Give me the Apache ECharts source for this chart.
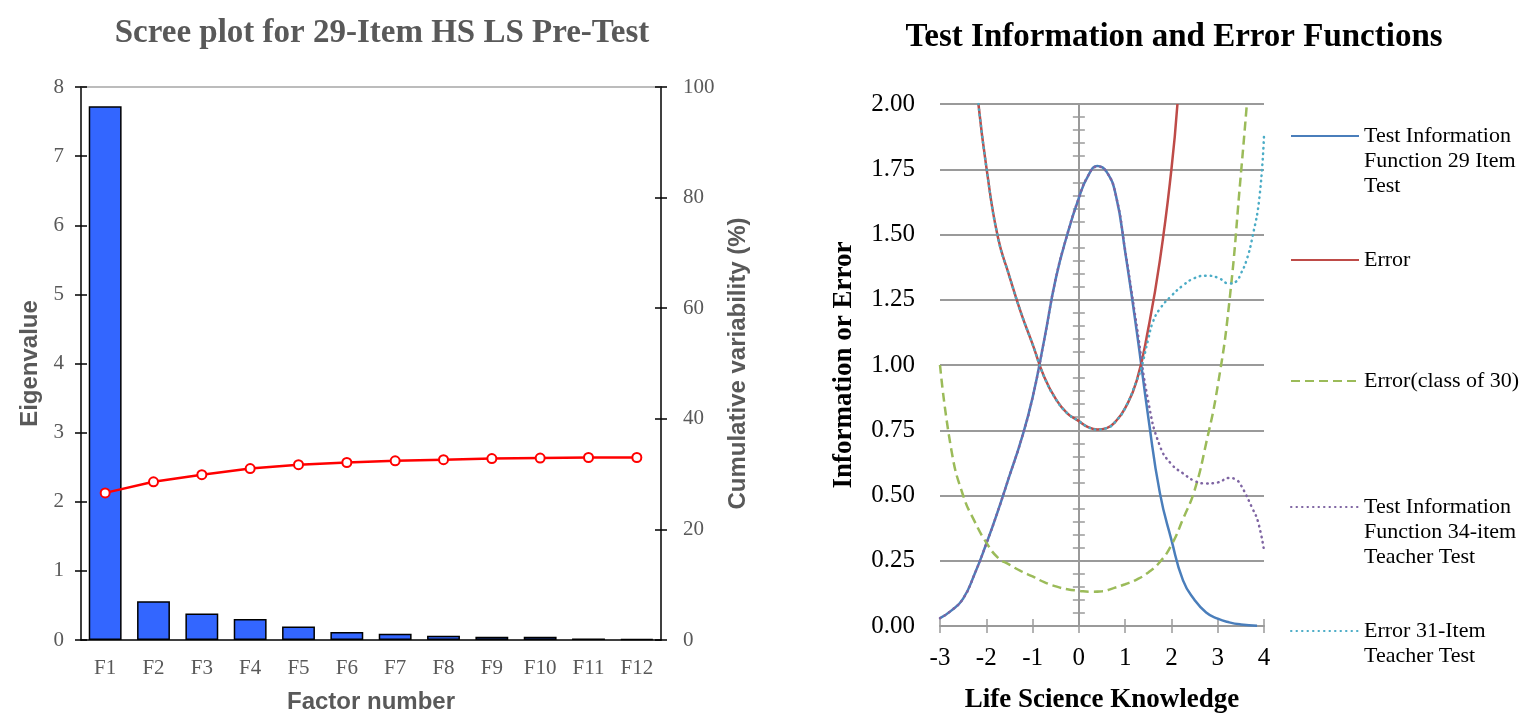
<!DOCTYPE html>
<html>
<head>
<meta charset="utf-8">
<title>Scree plot and test information</title>
<script src="https://cdn.jsdelivr.net/npm/echarts@6/dist/echarts.min.js"></script>
<style>
  html, body { margin: 0; padding: 0; background: #fff; }
  #main { width: 1522px; height: 719px; }
</style>
</head>
<body>
<div id="main"></div>
<script>
// scree plot data
const factors = ['F1', 'F2', 'F3', 'F4', 'F5', 'F6', 'F7', 'F8', 'F9', 'F10', 'F11', 'F12']
const eigenvalues = [7.72, 0.56, 0.385, 0.305, 0.195, 0.115, 0.09, 0.062, 0.048, 0.046, 0.022, 0.012]
const cumulative = [26.6, 28.6, 29.9, 31.0, 31.7, 32.1, 32.4, 32.6, 32.8, 32.9, 33.0, 33.0]

// test information / error data, [theta, value]
const info29 = [[-3, 0.03], [-2.75, 0.06], [-2.5, 0.105], [-2.25, 0.2], [-2, 0.315], [-1.75, 0.44], [-1.5, 0.575], [-1.25, 0.71], [-1, 0.875], [-0.75, 1.095], [-0.5, 1.33], [-0.25, 1.5], [0, 1.64], [0.2, 1.725], [0.4, 1.762], [0.6, 1.74], [0.8, 1.65], [1, 1.435], [1.25, 1.13], [1.5, 0.8], [1.75, 0.51], [2, 0.33], [2.25, 0.175], [2.5, 0.1], [2.75, 0.052], [3, 0.028], [3.25, 0.014], [3.5, 0.006], [3.85, 0.001]]
const error29 = [[-2.17, 2.0], [-2, 1.76], [-1.75, 1.49], [-1.5, 1.34], [-1.25, 1.2], [-1, 1.08], [-0.75, 0.955], [-0.5, 0.87], [-0.25, 0.815], [0, 0.785], [0.2, 0.762], [0.4, 0.753], [0.6, 0.758], [0.8, 0.785], [1, 0.835], [1.25, 0.94], [1.5, 1.14], [1.75, 1.4], [2, 1.75], [2.13, 2.0]]
const errorClass30 = [[-3, 1.0], [-2.75, 0.67], [-2.5, 0.5], [-2.25, 0.4], [-2, 0.32], [-1.75, 0.262], [-1.5, 0.235], [-1.25, 0.21], [-1, 0.19], [-0.75, 0.168], [-0.5, 0.152], [-0.25, 0.141], [0, 0.135], [0.25, 0.131], [0.5, 0.133], [0.75, 0.145], [1, 0.16], [1.25, 0.178], [1.5, 0.205], [1.75, 0.245], [2, 0.31], [2.25, 0.41], [2.5, 0.52], [2.75, 0.7], [3, 0.92], [3.25, 1.24], [3.5, 1.73], [3.63, 2.0]]
const info34 = [[-3, 0.03], [-2.75, 0.06], [-2.5, 0.105], [-2.25, 0.2], [-2, 0.315], [-1.75, 0.44], [-1.5, 0.575], [-1.25, 0.71], [-1, 0.875], [-0.75, 1.095], [-0.5, 1.33], [-0.25, 1.5], [0, 1.64], [0.2, 1.725], [0.4, 1.76], [0.6, 1.74], [0.8, 1.65], [1, 1.44], [1.25, 1.15], [1.5, 0.86], [1.75, 0.69], [2, 0.62], [2.25, 0.585], [2.5, 0.556], [2.75, 0.546], [3, 0.55], [3.25, 0.567], [3.4, 0.56], [3.5, 0.54], [3.75, 0.45], [3.87, 0.4], [4, 0.29]]
const error31 = [[-2.17, 2.0], [-2, 1.76], [-1.75, 1.49], [-1.5, 1.34], [-1.25, 1.2], [-1, 1.08], [-0.75, 0.955], [-0.5, 0.87], [-0.25, 0.815], [0, 0.785], [0.2, 0.762], [0.4, 0.753], [0.6, 0.758], [0.8, 0.785], [1, 0.835], [1.25, 0.94], [1.35, 0.99], [1.5, 1.1], [1.6, 1.165], [1.75, 1.215], [2, 1.265], [2.25, 1.305], [2.5, 1.333], [2.75, 1.342], [3, 1.335], [3.25, 1.312], [3.4, 1.32], [3.5, 1.35], [3.62, 1.4], [3.75, 1.49], [3.9, 1.64], [4, 1.88]]

const names = [
  'Test Information\nFunction 29 Item\nTest',
  'Error',
  'Error(class of 30)',
  'Test Information\nFunction 34-item\nTeacher Test',
  'Error 31-Item\nTeacher Test',
]

const serif = '"Liberation Serif", "DejaVu Serif", serif'
const sans = '"Liberation Sans", Arial, sans-serif'
const gridGray = '#9a9a9a'

// one legend per entry; blank lines on top keep the symbol on the first text line
const legendCenters = [136, 260, 381, 507, 631]
const legends = names.map((n, i) => {
  const lines = n.split('\n').length
  return {
    data: [n],
    orient: 'vertical',
    left: 1290,
    top: legendCenters[i] - (2 * lines - 1) * 12.5,
    padding: 0,
    itemWidth: 68,
    itemHeight: 12,
    selectedMode: false,
    itemStyle: { opacity: 0 },
    formatter: (name) => '\n'.repeat(lines - 1) + name,
    textStyle: {
      fontFamily: serif,
      fontSize: 22,
      color: '#000',
      lineHeight: 25,
    },
  }
})

function curve(name, data, color, dash, cap) {
  return {
    name, type: 'line', xAxisIndex: 3, yAxisIndex: 4,
    data, symbol: 'none', smooth: 0.5,
    lineStyle: { color, width: 2.5, type: dash || 'solid', cap: cap || 'butt' },
    itemStyle: { color },
  }
}

const chart = echarts.init(document.getElementById('main'))
chart.setOption({
  animation: false,
  graphic: [
    {
      type: 'text', x: 382, y: 33,
      style: {
        text: 'Scree plot for 29-Item HS LS Pre-Test',
        fontFamily: serif, fontSize: 33, fontWeight: 'bold', fill: '#595959',
        align: 'center', verticalAlign: 'middle',
      },
    },
    {
      type: 'text', x: 1174, y: 37,
      style: {
        text: 'Test Information and Error Functions',
        fontFamily: serif, fontSize: 33, fontWeight: 'bold', fill: '#000',
        align: 'center', verticalAlign: 'middle',
      },
    },
  ],
  legend: legends,
  grid: [
    { left: 81, top: 87, width: 580, height: 556 },
    { left: 940, top: 104, width: 324, height: 528 },
  ],
  xAxis: [
    {
      type: 'category', gridIndex: 0, data: factors, position: 'bottom',
      axisLine: { lineStyle: { color: '#000', width: 1.5 } },
      axisTick: { interval: 0, length: 6, lineStyle: { color: '#000', width: 1.5 } },
      axisLabel: { interval: 0, color: '#595959', fontFamily: serif, fontSize: 21, margin: 18 },
      name: 'Factor number', nameLocation: 'middle', nameGap: 50,
      nameTextStyle: { color: '#595959', fontFamily: sans, fontWeight: 'bold', fontSize: 24 },
    },
    {
      type: 'category', gridIndex: 0, data: factors, position: 'bottom',
      axisLine: { show: false },
      axisTick: { interval: 0, inside: true, length: 6, lineStyle: { color: '#000', width: 1.5 } },
      axisLabel: { show: false },
    },
    {
      type: 'category', gridIndex: 0, data: factors, position: 'top',
      axisLine: { onZero: false, lineStyle: { color: '#a6a6a6', width: 1.5 } },
      axisTick: { show: false },
      axisLabel: { show: false },
    },
    {
      type: 'value', gridIndex: 1, min: -3, max: 4, interval: 1, position: 'bottom',
      axisLine: { lineStyle: { color: gridGray, width: 2 } },
      axisTick: { length: 7, lineStyle: { color: gridGray, width: 1.5 } },
      axisLabel: { color: '#000', fontFamily: serif, fontSize: 25, margin: 20 },
      splitLine: { show: false },
      name: 'Life Science Knowledge', nameLocation: 'middle', nameGap: 61,
      nameTextStyle: { color: '#000', fontFamily: serif, fontWeight: 'bold', fontSize: 27 },
    },
    {
      type: 'value', gridIndex: 1, min: -3, max: 4, interval: 1, position: 'bottom',
      axisLine: { show: false },
      axisTick: { inside: true, length: 7, lineStyle: { color: gridGray, width: 1.5 } },
      axisLabel: { show: false },
      splitLine: { show: false },
    },
  ],
  yAxis: [
    {
      type: 'value', gridIndex: 0, min: 0, max: 8, interval: 1, position: 'left',
      axisLine: { show: true, lineStyle: { color: '#000', width: 1.5 } },
      axisTick: { show: true, length: 6, lineStyle: { color: '#000', width: 1.5 } },
      axisLabel: { color: '#595959', fontFamily: serif, fontSize: 21, margin: 17 },
      splitLine: { show: false },
      name: 'Eigenvalue', nameLocation: 'middle', nameGap: 39, nameRotate: 90,
      nameTextStyle: { color: '#595959', fontFamily: sans, fontWeight: 'bold', fontSize: 24 },
    },
    {
      type: 'value', gridIndex: 0, min: 0, max: 8, interval: 1, position: 'left',
      axisLine: { show: false },
      axisTick: { show: true, inside: true, length: 6, lineStyle: { color: '#000', width: 1.5 } },
      axisLabel: { show: false },
      splitLine: { show: false },
    },
    {
      type: 'value', gridIndex: 0, min: 0, max: 100, interval: 20, position: 'right',
      axisLine: { show: true, lineStyle: { color: '#000', width: 1.5 } },
      axisTick: { show: true, length: 6, lineStyle: { color: '#000', width: 1.5 } },
      axisLabel: { color: '#595959', fontFamily: serif, fontSize: 21, margin: 22 },
      splitLine: { show: false },
      name: 'Cumulative variability (%)', nameLocation: 'middle', nameGap: 65, nameRotate: 90,
      nameTextStyle: { color: '#595959', fontFamily: sans, fontWeight: 'bold', fontSize: 24 },
    },
    {
      type: 'value', gridIndex: 0, min: 0, max: 100, interval: 20, position: 'right',
      axisLine: { show: false },
      axisTick: { show: true, inside: true, length: 6, lineStyle: { color: '#000', width: 1.5 } },
      axisLabel: { show: false },
      splitLine: { show: false },
    },
    {
      type: 'value', gridIndex: 1, min: 0, max: 2, interval: 0.25, position: 'left',
      axisLine: { show: false, onZero: false },
      axisTick: { show: false },
      axisLabel: {
        color: '#000', fontFamily: serif, fontSize: 25, margin: 25,
        formatter: (v) => v.toFixed(2),
      },
      splitLine: { show: true, lineStyle: { color: gridGray, width: 2 } },
      name: 'Information or Error', nameLocation: 'middle', nameGap: 82, nameRotate: 90,
      nameTextStyle: { color: '#000', fontFamily: serif, fontWeight: 'bold', fontSize: 27 },
    },
    {
      type: 'value', gridIndex: 1, min: 0, max: 2, interval: 0.25, position: 'left',
      axisLine: { show: true, onZero: true, lineStyle: { color: gridGray, width: 2 } },
      axisTick: { show: true, length: 6, lineStyle: { color: gridGray, width: 1.5 } },
      minorTick: { show: true, splitNumber: 5, length: 6, lineStyle: { color: gridGray, width: 1.5 } },
      axisLabel: { show: false },
      splitLine: { show: false },
    },
    {
      type: 'value', gridIndex: 1, min: 0, max: 2, interval: 0.25, position: 'left',
      axisLine: { show: false, onZero: true },
      axisTick: { show: true, inside: true, length: 6, lineStyle: { color: gridGray, width: 1.5 } },
      minorTick: { show: true, splitNumber: 5, length: 6, lineStyle: { color: gridGray, width: 1.5 } },
      axisLabel: { show: false },
      splitLine: { show: false },
    },
  ],
  series: [
    {
      type: 'bar', xAxisIndex: 0, yAxisIndex: 0,
      data: eigenvalues,
      barCategoryGap: '32%',
      itemStyle: { color: '#3366ff', borderColor: '#000', borderWidth: 1.5 },
    },
    {
      type: 'line', xAxisIndex: 0, yAxisIndex: 2,
      data: cumulative,
      symbol: 'circle', symbolSize: 9,
      lineStyle: { color: '#ff0000', width: 2.5 },
      itemStyle: { color: '#fff', borderColor: '#ff0000', borderWidth: 2 },
      z: 5,
    },
    curve(names[0], info29, '#4a7ebb'),
    curve(names[1], error29, '#be4b48'),
    curve(names[2], errorClass30, '#9bbb59', [9, 5]),
    curve(names[3], info34, '#7e64a2', [0.5, 5], 'round'),
    curve(names[4], error31, '#4bacc6', [0.5, 5], 'round'),
  ],
})
</script>
</body>
</html>
